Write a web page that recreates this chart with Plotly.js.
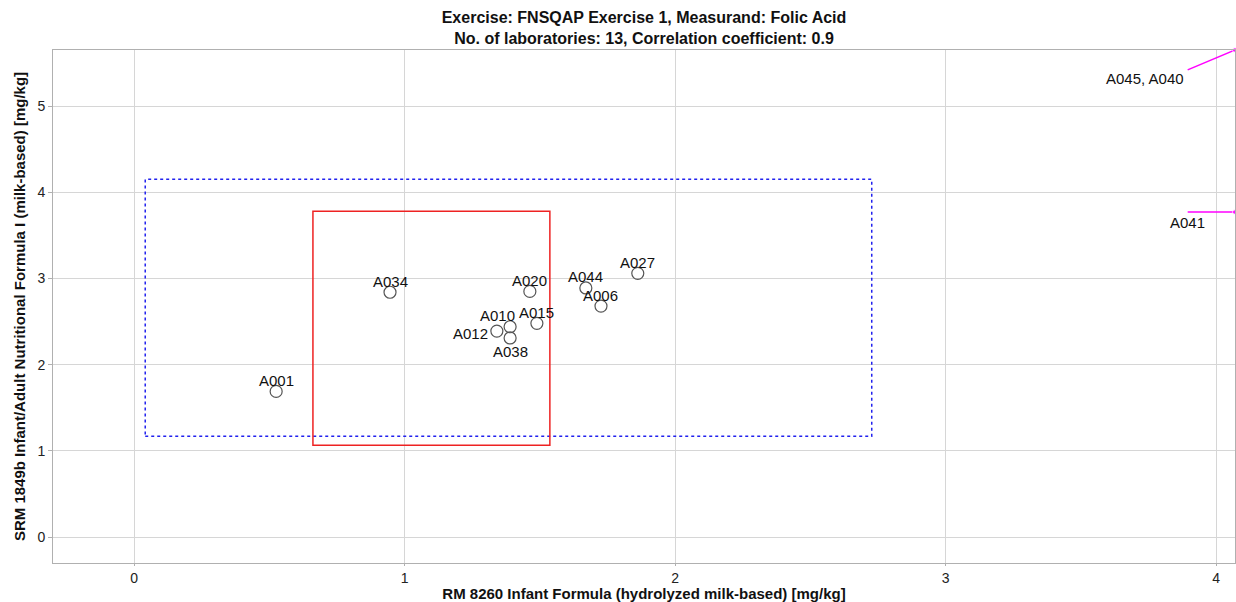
<!DOCTYPE html>
<html><head><meta charset="utf-8">
<script src="https://cdn.plot.ly/plotly-3.0.1.min.js"></script>
<style>html,body{margin:0;padding:0;background:#fff}#chart{width:1236px;height:602px}</style>
</head><body><div id="chart"></div>
<script>
// Data
const labs = ["A001","A034","A020","A044","A006","A027","A015","A010","A012","A038"];
const xVals = [0.525, 0.946, 1.463, 1.670, 1.726, 1.862, 1.489, 1.390, 1.341, 1.390];
const yVals = [1.69, 2.84, 2.85, 2.89, 2.68, 3.06, 2.48, 2.44, 2.39, 2.31];
const labelSide = ["top","top","top","top","top","top","top","topleft","left","bottom"];

// Out-of-range indicators
const outLabels = ["A045, A040", "A041"];
const outX = [[3.895, 4.07], [3.895, 4.07]];
const outY = [[5.42, 5.65], [3.77, 3.77]];

// Rectangles
const redBox = {x0: 0.661, x1: 1.537, y0: 1.067, y1: 3.78};
const blueBox = {x0: 0.041, x1: 2.727, y0: 1.17, y1: 4.15};

const font = "Liberation Sans, Arial, sans-serif";
const lblFont = {family: font, size: 15, color: "#111"};

const traces = [{
  type: "scatter", mode: "markers",
  x: xVals, y: yVals, text: labs,
  marker: {symbol: "circle-open", size: 12, color: "#555", line: {width: 1.2, color: "#555"}},
  cliponaxis: false, hoverinfo: "text", showlegend: false
}];
outX.forEach((xs, i) => {
  traces.push({
    type: "scatter", mode: "lines+markers", x: xs, y: outY[i],
    line: {color: "#ff00ff", width: 1.5},
    marker: {size: [0, 5], color: "#ff00ff"},
    cliponaxis: false, showlegend: false, hoverinfo: "skip"
  });
});

const annotations = labs.map((t, i) => {
  const s = labelSide[i];
  const a = {x: xVals[i], y: yVals[i], text: t, showarrow: false, font: lblFont, xanchor: "center", yanchor: "middle"};
  if (s === "top") { a.yshift = 11; }
  else if (s === "topleft") { a.yshift = 11; a.xshift = -13; }
  else if (s === "left") { a.xanchor = "right"; a.xshift = -7; a.yshift = -2; }
  else if (s === "bottom") { a.yshift = -14; }
  return a;
});
annotations.push(
  {x: outX[0][0], y: outY[0][0], text: outLabels[0], xanchor: "right", yanchor: "top", xshift: -2, yshift: 2, showarrow: false, font: lblFont},
  {x: outX[1][0], y: outY[1][0], text: outLabels[1], xanchor: "center", yanchor: "top", showarrow: false, font: lblFont}
);

const layout = {
  width: 1236, height: 602,
  margin: {l: 53, r: 1, t: 50, b: 39},
  paper_bgcolor: "#fff", plot_bgcolor: "#fff",
  title: {text: "<b>Exercise: FNSQAP Exercise 1, Measurand: Folic Acid<br>No. of laboratories: 13, Correlation coefficient: 0.9</b>",
          font: {family: font, size: 16, color: "#111"}, x: 0.5, xanchor: "center", xref: "paper",
          yref: "container", y: 0.962, yanchor: "middle"},
  xaxis: {range: [-0.3, 4.07], tickvals: [0,1,2,3,4], showgrid: true, gridcolor: "#d6d6d6", zeroline: false,
          showline: true, linecolor: "#b0b0b0", mirror: true, ticks: "outside", ticklen: 2, tickcolor: "#b0b0b0",
          tickfont: {family: font, size: 14, color: "#222"},
          title: {text: "<b>RM 8260 Infant Formula (hydrolyzed milk-based) [mg/kg]</b>", font: {family: font, size: 15, color: "#111"}, standoff: 3}},
  yaxis: {range: [-0.3, 5.65], tickvals: [0,1,2,3,4,5], showgrid: true, gridcolor: "#d6d6d6", zeroline: false,
          showline: true, linecolor: "#b0b0b0", mirror: true, ticks: "outside", ticklen: 4, tickcolor: "#b0b0b0",
          tickfont: {family: font, size: 14, color: "#222"},
          title: {text: "<b>SRM 1849b Infant/Adult Nutritional Formula I (milk-based) [mg/kg]</b>", font: {family: font, size: 15, color: "#111"}, standoff: 8}},
  shapes: [
    {type: "rect", xref: "x", yref: "y", x0: blueBox.x0, x1: blueBox.x1, y0: blueBox.y0, y1: blueBox.y1, line: {color: "#2222ee", width: 1.5, dash: "dot"}},
    {type: "rect", xref: "x", yref: "y", x0: redBox.x0, x1: redBox.x1, y0: redBox.y0, y1: redBox.y1, line: {color: "#ee2222", width: 1.5}}
  ],
  annotations: annotations
};
Plotly.newPlot("chart", traces, layout, {displayModeBar: false, staticPlot: true});
</script></body></html>
